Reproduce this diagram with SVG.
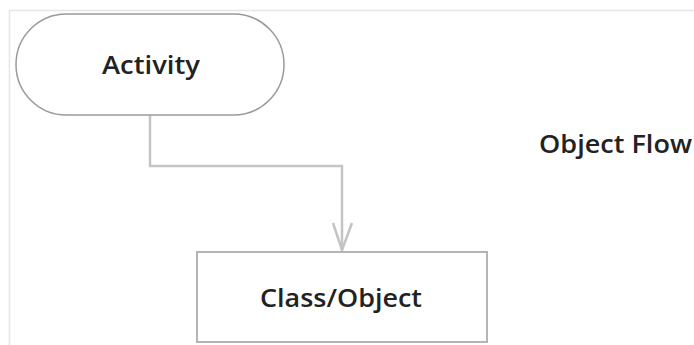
<svg xmlns="http://www.w3.org/2000/svg" width="694" height="345" viewBox="0 0 694 345">
<style>
.frame{stroke:#e6e6e6;stroke-width:1.5;fill:none}
.node{fill:#fff;stroke:#9a9a9a;stroke-width:1.5}
.box{fill:#fff;stroke:#b4b4b4;stroke-width:2}
.lbl{font-family:"Open Sans","DejaVu Sans",sans-serif;font-weight:600;font-size:25px;fill:#222}
.conn{fill:none;stroke:#c4c4c4;stroke-width:2.5}
</style>
<rect width="694" height="345" fill="#fff"/>
<path class="frame" d="M9.5,345 V10.5 H694"/>
<g id="connectors">
<path class="conn" d="M150,115 V166 H342 V251"/>
<path class="conn" d="M333,223 L342,250 L352,223" stroke-width="2"/>
</g>
<g id="activity">
<rect class="node" x="16" y="14" width="268" height="101" rx="50.5" ry="50.5"/>
<text class="lbl" x="102" y="74" textLength="98" lengthAdjust="spacingAndGlyphs">Activity</text>
</g>
<g id="classobject">
<rect class="box" x="197" y="252" width="290" height="90"/>
<text class="lbl" x="260" y="307" textLength="162" lengthAdjust="spacingAndGlyphs">Class/Object</text>
</g>
<g id="objectflow">
<text class="lbl" x="539" y="153" textLength="153" lengthAdjust="spacingAndGlyphs">Object Flow</text>
</g>
</svg>
